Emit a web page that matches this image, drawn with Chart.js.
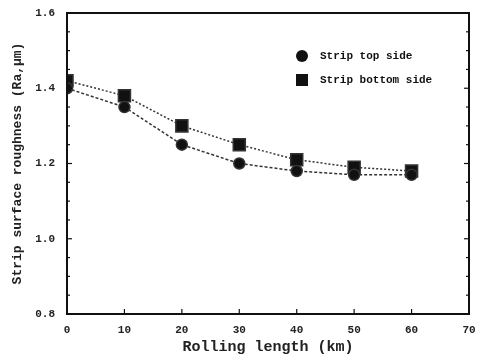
<!DOCTYPE html>
<html>
<head>
<meta charset="utf-8">
<script src="https://cdn.jsdelivr.net/npm/chart.js@4/dist/chart.umd.min.js"></script>
<style>
  html, body { margin: 0; padding: 0; background: #fff; }
  #wrap { width: 479px; height: 360px; }
</style>
</head>
<body>
<div id="wrap"><canvas id="myChart" width="479" height="360"></canvas></div>
<script>
var lengths = [0, 10, 20, 30, 40, 50, 60];
var topSide = [1.40, 1.35, 1.25, 1.20, 1.18, 1.17, 1.17];
var bottomSide = [1.42, 1.38, 1.30, 1.25, 1.21, 1.19, 1.18];
var xTicks = [0, 10, 20, 30, 40, 50, 60, 70];
var yTicks = [0.8, 1.0, 1.2, 1.4, 1.6];

var font = '"Liberation Mono", "DejaVu Sans Mono", monospace';

function pts(ys) {
  return lengths.map(function (x, i) { return {x: x, y: ys[i]}; });
}

// inward tick marks, frame and legend inside the plot
var decor = {
  id: 'decor',
  afterDraw: function (chart) {
    var c = chart.ctx, a = chart.chartArea;
    var xs = chart.scales.x, ys = chart.scales.y;
    c.save();
    c.strokeStyle = '#111';
    c.lineWidth = 2;
    c.strokeRect(a.left, a.top, a.right - a.left, a.bottom - a.top);
    c.lineWidth = 1.2;
    xTicks.forEach(function (v) {
      var px = xs.getPixelForValue(v);
      c.beginPath(); c.moveTo(px, a.bottom); c.lineTo(px, a.bottom - 5); c.stroke();
    });
    for (var v = 0.8; v <= 1.6001; v += 0.05) {
      var py = ys.getPixelForValue(v);
      var major = Math.abs(Math.round(v * 10) / 10 - v) < 1e-6 && Math.round(v * 10) % 2 === 0;
      var len = major ? 5 : 3;
      c.beginPath(); c.moveTo(a.left, py); c.lineTo(a.left + len, py); c.stroke();
      c.beginPath(); c.moveTo(a.right, py); c.lineTo(a.right - len, py); c.stroke();
    }
    // legend
    c.fillStyle = '#111';
    c.font = 'bold 11px ' + font;
    c.textBaseline = 'middle';
    chart.data.datasets.forEach(function (ds, i) {
      var ly = 56 + i * 24, lx = 302;
      c.beginPath();
      if (ds.pointStyle === 'rect') {
        c.fillRect(lx - 6, ly - 6, 12, 12);
      } else {
        c.arc(lx, ly, 6, 0, Math.PI * 2); c.fill();
      }
      c.fillText(ds.label, lx + 18, ly);
    });
    c.restore();
  }
};

var ctx = document.getElementById('myChart').getContext('2d');
var myChart = new Chart(ctx, {
  type: 'scatter',
  data: {
    datasets: [{
      label: 'Strip top side',
      data: pts(topSide),
      showLine: true,
      borderColor: '#333',
      backgroundColor: '#111',
      borderWidth: 1.5,
      borderDash: [3, 2],
      pointStyle: 'circle',
      pointRadius: 5.5,
      pointHoverRadius: 5.5
    }, {
      label: 'Strip bottom side',
      data: pts(bottomSide),
      showLine: true,
      borderColor: '#333',
      backgroundColor: '#111',
      borderWidth: 1.5,
      borderDash: [2, 2],
      pointStyle: 'rect',
      pointRadius: 8.5,
      pointHoverRadius: 8.5
    }]
  },
  options: {
    responsive: false,
    animation: false,
    layout: { padding: { top: 13, right: 8, left: 10, bottom: 0 } },
    plugins: {
      legend: { display: false },
      tooltip: { enabled: false }
    },
    scales: {
      x: {
        type: 'linear',
        min: 0, max: 70,
        afterBuildTicks: function (s) { s.ticks = xTicks.map(function (v) { return {value: v}; }); },
        grid: { display: false },
        border: { display: false },
        ticks: { color: '#222', font: { family: font, size: 11, weight: 'bold' }, padding: 2 },
        title: { display: true, text: 'Rolling length (km)', color: '#222',
                 font: { family: font, size: 15, weight: 'bold' }, padding: { top: 5, bottom: 4 } },
        afterFit: function (s) { s.height = 46; }
      },
      y: {
        min: 0.8, max: 1.6,
        afterBuildTicks: function (s) { s.ticks = yTicks.map(function (v) { return {value: v}; }); },
        grid: { display: false },
        border: { display: false },
        ticks: { color: '#222', font: { family: font, size: 11, weight: 'bold' }, padding: 4,
                 callback: function (v) { return v.toFixed(1); } },
        title: { display: true, text: 'Strip surface roughness (Ra,\u03bcm)', color: '#222',
                 font: { family: font, size: 13, weight: 'bold' }, padding: { top: 0, bottom: 4 } },
        afterFit: function (s) { s.width = 57; }
      }
    }
  },
  plugins: [decor]
});
</script>
</body>
</html>
